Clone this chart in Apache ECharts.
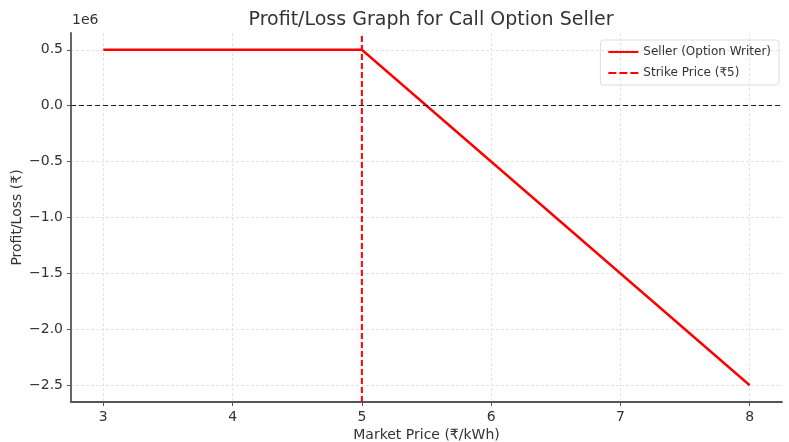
<!DOCTYPE html>
<html>
<head>
<meta charset="utf-8">
<script src="https://cdn.jsdelivr.net/npm/echarts@6/dist/echarts.min.js"></script>
<style>
  html, body { margin: 0; padding: 0; background: #fff; }
  #chart { width: 789px; height: 442px; }
</style>
</head>
<body>
<div id="chart"></div>
<script>
// market price (₹/kWh) and seller profit/loss (₹)
var marketPrice = [3, 5, 8];
var sellerPnl = [500000, 500000, -2500000];
var strikePrice = 5;
var yMin = -2650000, yMax = 650000;
var xTicks = [3, 4, 5, 6, 7, 8];
var yTicks = [-2500000, -2000000, -1500000, -1000000, -500000, 0, 500000];

var chart = echarts.init(document.getElementById('chart'));

function fmtY(v) {
  var s = (v / 1e6).toFixed(1);
  return s.replace('-', '\u2212');
}

var option = {
  animation: false,
  title: {
    text: 'Profit/Loss Graph for Call Option Seller',
    left: 426,
    textAlign: 'center',
    top: 6,
    textStyle: { fontFamily: 'DejaVu Sans', fontSize: 19, fontWeight: 'normal', color: '#333' }
  },
  legend: {
    right: 10,
    top: 40,
    orient: 'vertical',
    itemWidth: 30,
    itemHeight: 2,
    itemGap: 9,
    padding: [6, 8, 6, 8],
    borderColor: '#ddd',
    borderWidth: 1,
    borderRadius: 3,
    textStyle: { fontFamily: 'DejaVu Sans', fontSize: 12, color: '#333' },
    data: [
      { name: 'Seller (Option Writer)', icon: 'rect' },
      { name: 'Strike Price (₹5)', icon: 'path://M0,0h8v2h-8z M11,0h8v2h-8z M22,0h8v2h-8z' }
    ]
  },
  grid: { left: 71, right: 7, top: 33, bottom: 40, outerBoundsMode: 'none', containLabel: false },
  xAxis: {
    type: 'value',
    min: 2.75,
    max: 8.25,
    name: 'Market Price (₹/kWh)',
    nameLocation: 'middle',
    nameGap: 26,
    nameMoveOverlap: false,
    nameTextStyle: { fontFamily: 'DejaVu Sans', fontSize: 14, color: '#333' },
    axisLine: { onZero: false, lineStyle: { color: '#555', width: 1.8 } },
    axisTick: { show: true, length: 4, lineStyle: { color: '#555' }, customValues: xTicks },
    axisLabel: { fontFamily: 'DejaVu Sans', fontSize: 14, color: '#333', margin: 8, customValues: xTicks },
    splitLine: { show: true, lineStyle: { color: '#ddd', type: [3, 2], width: 0.8 } }
  },
  yAxis: {
    type: 'value',
    min: yMin,
    max: yMax,
    name: 'Profit/Loss (₹)',
    nameLocation: 'middle',
    nameGap: 47,
    nameMoveOverlap: false,
    nameTextStyle: { fontFamily: 'DejaVu Sans', fontSize: 14, color: '#333' },
    axisLine: { show: true, onZero: false, lineStyle: { color: '#555', width: 1.8 } },
    axisTick: { show: true, length: 4, lineStyle: { color: '#555' }, customValues: yTicks },
    axisLabel: { fontFamily: 'DejaVu Sans', fontSize: 14, color: '#333', margin: 8, formatter: fmtY,
      customValues: yTicks },
    splitLine: { show: true, lineStyle: { color: '#ddd', type: [3, 2], width: 0.8 } }
  },
  graphic: [{
    type: 'text',
    left: 72,
    top: 13,
    style: { text: '1e6', font: '14px "DejaVu Sans"', fill: '#333' }
  }],
  series: [
    {
      name: 'Seller (Option Writer)',
      type: 'line',
      data: marketPrice.map(function (x, i) { return [x, sellerPnl[i]]; }),
      symbol: 'none',
      color: '#ff0000',
      lineStyle: { color: '#ff0000', width: 2.4 },
      markLine: {
        silent: true,
        symbol: 'none',
        label: { show: false },
        lineStyle: { color: '#222', type: [5, 3], width: 1 },
        data: [{ yAxis: 0 }]
      },
      z: 3
    },
    {
      name: 'Strike Price (₹5)',
      type: 'line',
      data: [[strikePrice, yMin], [strikePrice, yMax]],
      symbol: 'none',
      color: '#ff0000',
      lineStyle: { color: '#ff0000', width: 2, type: [6, 3] },
      z: 4
    }
  ]
};

chart.setOption(option);
</script>
</body>
</html>
